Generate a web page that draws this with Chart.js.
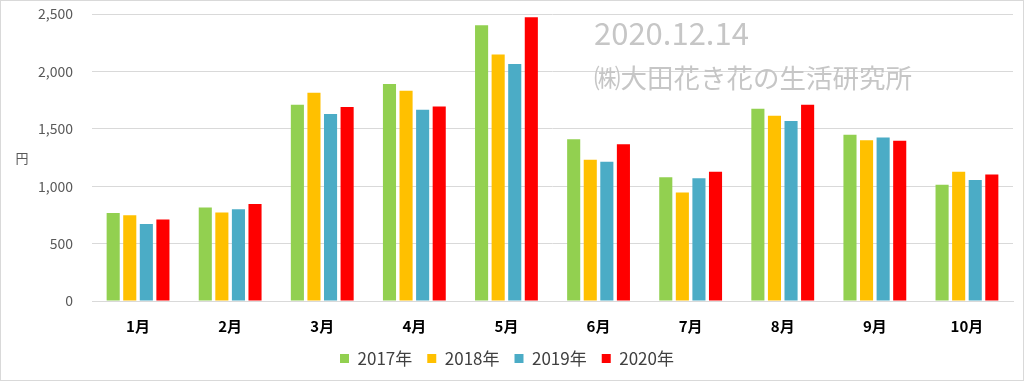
<!DOCTYPE html>
<html>
<head>
<meta charset="utf-8">
<script src="https://cdn.jsdelivr.net/npm/chart.js@4"></script>
<style>
html,body{margin:0;padding:0;background:#fff;}
#wrap{position:relative;width:1024px;height:381px;box-sizing:border-box;border:1px solid #d9d9d9;}
canvas{display:block;}
</style>
</head>
<body>
<div id="wrap"><canvas id="c"></canvas></div>
<script>
const categories = ['1月','2月','3月','4月','5月','6月','7月','8月','9月','10月'];
const seriesNames = ['2017年','2018年','2019年','2020年'];
const v2017 = [767, 814, 1709, 1890, 2401, 1410, 1079, 1674, 1448, 1012];
const v2018 = [747, 770, 1814, 1831, 2148, 1230, 945, 1613, 1401, 1125];
const v2019 = [671, 799, 1628, 1666, 2064, 1212, 1070, 1567, 1424, 1055];
const v2020 = [709, 846, 1689, 1695, 2471, 1366, 1125, 1709, 1395, 1101];
const yTicks = [0, 500, 1000, 1500, 2000, 2500];
const yUnit = '円';
const stampDate = '2020.12.14';
const stampOrg = '㈱大田花き花の生活研究所';

const colors = ['#92D050', '#FFC000', '#4BACC6', '#FF0000'];
const FONT = '"Noto Sans CJK JP", "Noto Sans", sans-serif';

const overlay = {
  id: 'overlay',
  afterDraw(chart) {
    const ctx = chart.ctx;
    ctx.save();
    ctx.fillStyle = '#c6c6c6';
    ctx.textBaseline = 'middle';
    ctx.textAlign = 'left';
    ctx.font = '31px ' + FONT;
    ctx.fillText(stampDate, 593, 32);
    ctx.font = '26.5px ' + FONT;
    ctx.fillText(stampOrg, 593, 77);
    ctx.fillStyle = '#595959';
    ctx.font = '13px ' + FONT;
    ctx.textAlign = 'center';
    ctx.fillText(yUnit, 21, 157);
    ctx.restore();
  }
};

const datasets = [v2017, v2018, v2019, v2020].map((d, i) => ({
  label: seriesNames[i],
  data: d,
  backgroundColor: colors[i],
  borderWidth: 0,
  categoryPercentage: 0.72,
  barPercentage: 0.79
}));

new Chart(document.getElementById('c'), {
  type: 'bar',
  data: { labels: categories, datasets },
  options: {
    responsive: true,
    maintainAspectRatio: false,
    animation: false,
    layout: { padding: { top: 13, right: 10, bottom: 3, left: 0 } },
    plugins: {
      legend: {
        position: 'bottom',
        labels: {
          font: { family: FONT, size: 17 },
          color: '#404040',
          boxWidth: 9,
          boxHeight: 9,
          padding: 15
        }
      },
      tooltip: { enabled: false }
    },
    scales: {
      x: {
        grid: { display: false, drawTicks: false },
        border: { color: '#d9d9d9' },
        ticks: { font: { family: FONT, size: 15, weight: 'bold' }, color: '#000', padding: 16 },
        afterFit(s) { s.height = 34; }
      },
      y: {
        min: 0, max: 2500,
        afterBuildTicks(s) { s.ticks = yTicks.map(v => ({ value: v })); },
        grid: { color: '#d9d9d9', drawTicks: false },
        border: { display: false },
        ticks: {
          font: { family: FONT, size: 14 },
          color: '#595959',
          padding: 19,
          callback: v => v.toLocaleString('en-US')
        },
        afterFit(s) { s.width = 91; s.paddingTop = 0; s.paddingBottom = 0; }
      }
    }
  },
  plugins: [overlay]
});
</script>
</body>
</html>
